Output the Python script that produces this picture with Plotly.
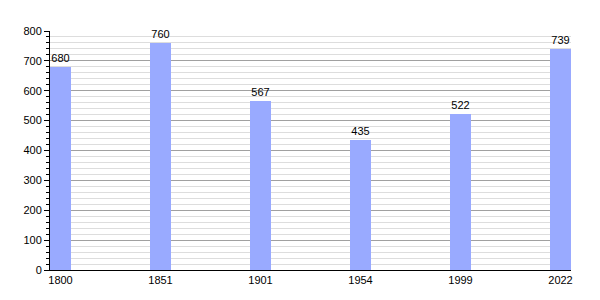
import plotly.graph_objects as go

years = ["1800", "1851", "1901", "1954", "1999", "2022"]
population = [680, 760, 567, 435, 522, 739]
positions = list(range(len(years)))

fig = go.Figure()
fig.add_trace(go.Bar(
    x=positions, y=population,
    width=0.21,
    marker=dict(color="#99aaff", line=dict(width=0)),
    text=[str(v) for v in population],
    textposition="outside",
    textfont=dict(family="Liberation Sans, Arial, sans-serif", size=11, color="#000"),
    cliponaxis=False,
))

fig.update_layout(
    width=600, height=300,
    margin=dict(l=50, r=29, t=31, b=30),
    paper_bgcolor="white", plot_bgcolor="white",
    showlegend=False,
    font=dict(family="Liberation Sans, Arial, sans-serif", size=11, color="#000"),
    bargap=0,
)
fig.update_xaxes(
    range=[-0.105, 5.105],
    tickmode="array", tickvals=positions, ticktext=years,
    showgrid=False, zeroline=False,
    showline=True, linecolor="#000", linewidth=1,
    ticks="", tickfont=dict(size=11),
)
fig.update_yaxes(
    range=[0, 800],
    tickmode="linear", tick0=0, dtick=100,
    showgrid=True, gridcolor="#a0a0a0", gridwidth=1,
    zeroline=False,
    showline=True, linecolor="#000", linewidth=1,
    ticks="outside", ticklen=5, tickcolor="#000", tickwidth=1,
    minor=dict(dtick=20, showgrid=True, gridcolor="#dddddd", gridwidth=1,
               ticks="outside", ticklen=3, tickcolor="#000", tickwidth=1),
    tickfont=dict(size=11),
)

fig.write_html("out.html")
